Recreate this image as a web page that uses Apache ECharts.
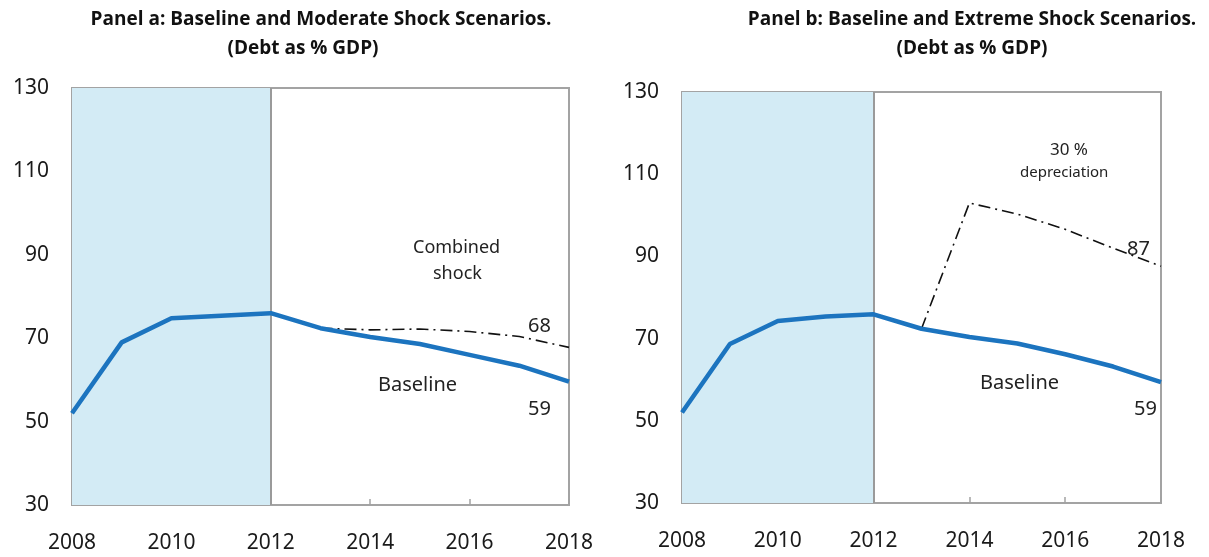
<!DOCTYPE html>
<html>
<head>
<meta charset="utf-8">
<script src="https://cdn.jsdelivr.net/npm/echarts@6/dist/echarts.min.js"></script>
<style>
html,body{margin:0;padding:0;background:#fff;}
#chart{width:1209px;height:557px;}
</style>
</head>
<body>
<div id="chart"></div>
<script>
// ---- data ----
var years = [2008, 2009, 2010, 2011, 2012, 2013, 2014, 2015, 2016, 2017, 2018];
var baselineA = [52, 69, 74.8, 75.4, 76, 72.4, 70.3, 68.6, 66, 63.4, 59.6];
var combinedShock = [null, null, null, null, null, 72.4, 72, 72.2, 71.6, 70.4, 67.8];
var baselineB = [52, 68.7, 74.3, 75.4, 75.9, 72.4, 70.4, 68.8, 66.2, 63.2, 59.4];
var depreciation = [null, null, null, null, null, 72.4, 103, 100.3, 96.6, 92, 87.6];
var yTicks = [30, 50, 70, 90, 110, 130];
var xTicks = [2008, 2010, 2012, 2014, 2016, 2018];
var historicalSpan = [2008, 2012];

function pairs(vals) {
  var out = [];
  for (var i = 0; i < years.length; i++) {
    if (vals[i] !== null) out.push([years[i], vals[i]]);
  }
  return out;
}

var chart = echarts.init(document.getElementById('chart'), null, {renderer: 'canvas'});
var axisGray = '#a3a3a3';
var labelFont = 'Noto Sans';
var blue = '#1c74bf';
var titleFont = 'Open Sans';

function xAxisCfg(idx) {
  return {
    type: 'value', gridIndex: idx, min: xTicks[0], max: xTicks[xTicks.length - 1], interval: 2,
    axisLine: {show: true, lineStyle: {color: axisGray, width: 2}},
    axisTick: {show: true, inside: true, length: 6, lineStyle: {color: axisGray, width: 1.5}},
    axisLabel: {color: '#1a1a1a', fontSize: 21, fontFamily: labelFont, margin: 28, formatter: function (v) { return String(v); }},
    splitLine: {show: false}
  };
}
function yAxisCfg(idx) {
  return {
    type: 'value', gridIndex: idx, min: yTicks[0], max: yTicks[yTicks.length - 1], interval: 20,
    axisLine: {show: true, lineStyle: {color: axisGray, width: 2}},
    axisTick: {show: true, inside: true, length: 6, lineStyle: {color: axisGray, width: 1.5}},
    axisLabel: {color: '#1a1a1a', fontSize: 21, fontFamily: labelFont, margin: 23},
    splitLine: {show: false}
  };
}

var dashDot = [12, 5, 2, 5];
function titleItem(text, x, y) {
  return {text: text, left: x, top: y, textAlign: 'center',
    textStyle: {fontFamily: titleFont, fontWeight: 'bold', fontSize: 19, color: '#111'}};
}

var option = {
  animation: false,
  backgroundColor: '#ffffff',
  title: [
    titleItem('Panel a: Baseline and Moderate Shock Scenarios.', 316, 5),
    titleItem('(Debt as % GDP)', 298, 34),
    titleItem('Panel b: Baseline and Extreme Shock Scenarios.', 967, 5),
    titleItem('(Debt as % GDP)', 967, 34)
  ],
  grid: [
    {left: 72, right: 640, top: 88, bottom: 52, show: true, borderColor: axisGray, borderWidth: 2, backgroundColor: 'transparent'},
    {left: 682, right: 48, top: 92, bottom: 54, show: true, borderColor: axisGray, borderWidth: 2, backgroundColor: 'transparent'}
  ],
  xAxis: [xAxisCfg(0), xAxisCfg(1)],
  yAxis: [yAxisCfg(0), yAxisCfg(1)],
  series: [
    {
      name: 'Baseline', type: 'line', xAxisIndex: 0, yAxisIndex: 0, data: pairs(baselineA),
      symbol: 'none', lineStyle: {color: blue, width: 4.5}, z: 5,
      markArea: {silent: true, itemStyle: {color: '#d3ebf5'}, data: [[{xAxis: historicalSpan[0]}, {xAxis: historicalSpan[1]}]]},
      markLine: {silent: true, symbol: 'none', label: {show: false}, lineStyle: {color: '#9a9a9a', width: 2, type: 'solid'}, data: [{xAxis: historicalSpan[1]}]}
    },
    {
      name: 'Combined shock', type: 'line', xAxisIndex: 0, yAxisIndex: 0, data: pairs(combinedShock),
      symbol: 'none', lineStyle: {color: '#111', width: 1.6, type: dashDot}, z: 4
    },
    {
      name: 'Baseline', type: 'line', xAxisIndex: 1, yAxisIndex: 1, data: pairs(baselineB),
      symbol: 'none', lineStyle: {color: blue, width: 4.5}, z: 5,
      markArea: {silent: true, itemStyle: {color: '#d3ebf5'}, data: [[{xAxis: historicalSpan[0]}, {xAxis: historicalSpan[1]}]]},
      markLine: {silent: true, symbol: 'none', label: {show: false}, lineStyle: {color: '#9a9a9a', width: 2, type: 'solid'}, data: [{xAxis: historicalSpan[1]}]}
    },
    {
      name: '30 % depreciation', type: 'line', xAxisIndex: 1, yAxisIndex: 1, data: pairs(depreciation),
      symbol: 'none', lineStyle: {color: '#111', width: 1.6, type: dashDot}, z: 4
    }
  ],
  graphic: [
    {type: 'text', left: 413, top: 239, style: {text: 'Combined', font: '18px "Noto Sans"', fill: '#222'}},
    {type: 'text', left: 433, top: 265, style: {text: 'shock', font: '18px "Noto Sans"', fill: '#222'}},
    {type: 'text', left: 528, top: 316, style: {text: '68', font: '20px "Noto Sans"', fill: '#222'}},
    {type: 'text', left: 378, top: 375, style: {text: 'Baseline', font: '20px "Noto Sans"', fill: '#222'}},
    {type: 'text', left: 528, top: 399, style: {text: '59', font: '20px "Noto Sans"', fill: '#222'}},
    {type: 'text', left: 1050, top: 142, style: {text: '30 %', font: '17px "Noto Sans"', fill: '#222'}},
    {type: 'text', left: 1020, top: 165, style: {text: 'depreciation', font: '15px "Noto Sans"', fill: '#222'}},
    {type: 'text', left: 1127, top: 239, style: {text: '87', font: '20px "Noto Sans"', fill: '#222'}},
    {type: 'text', left: 980, top: 373, style: {text: 'Baseline', font: '20px "Noto Sans"', fill: '#222'}},
    {type: 'text', left: 1134, top: 399, style: {text: '59', font: '20px "Noto Sans"', fill: '#222'}}
  ]
};
chart.setOption(option);
</script>
</body>
</html>
